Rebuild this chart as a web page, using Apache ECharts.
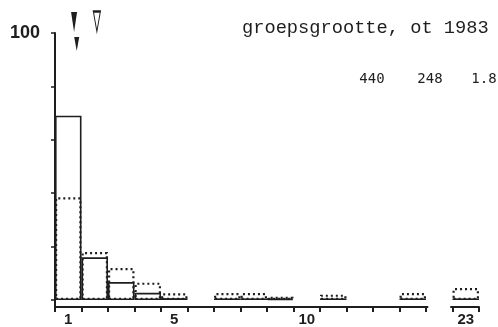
<!DOCTYPE html>
<html>
<head>
<meta charset="utf-8">
<script src="https://cdn.jsdelivr.net/npm/echarts@6/dist/echarts.min.js"></script>
<style>
  html, body { margin: 0; padding: 0; background: #fff; }
  #chart { width: 498px; height: 327px; }
</style>
</head>
<body>
<div id="chart"></div>
<script>
// group size bins (14 and 23 separated by a break)
const categories = ['1', '2', '3', '4', '5', '6', '7', '8', '9', '10', '11', '12', '13', '14', '', '23'];
const shownLabels = ['1', '5', '10', '23'];
// percentages, solid outline
const solidValues = [69, 16, 6.7, 2.7, 0.7, 0, 0.6, 0.6, 0.5, 0, 0.6, 0, 0, 0.6, 0, 0.6];
// percentages, dotted outline
const dottedValues = [38.5, 18, 12, 6.5, 2.5, 0, 2.6, 2.6, 1.2, 0, 2, 0, 0, 2.6, 0, 4.5];
// markers above the plot: [bin position, height]
const filledMarkers = [[1.72, 104.1], [1.82, 95.9]];
const openMarkers = [[2.58, 104.3]];
const summaryValues = ['440', '248', '1.8'];
const titleText = 'groepsgrootte, ot 1983';

const ink = '#1e1e1e';
const arrow = 'path://M0,0 L10,0 L5,30 Z';
// empty bins get no outline at all
const noEmpty = arr => arr.map(v => v === 0 ? '-' : v);

const chart = echarts.init(document.getElementById('chart'));

chart.setOption({
    animation: false,
    backgroundColor: '#fff',
    title: {
        text: titleText,
        left: 237,
        top: 14,
        textStyle: { fontFamily: 'Liberation Mono', fontSize: 18.7, fontWeight: 'normal', color: ink }
    },
    grid: { left: 55, right: 19, top: 33, bottom: 27 },
    xAxis: [{
        type: 'category',
        data: categories,
        offset: 7,
        axisLine: { onZero: false, lineStyle: { color: ink, width: 2 } },
        axisTick: { show: true, interval: 0, length: 5, lineStyle: { color: ink, width: 2 } },
        axisLabel: {
            interval: 0,
            margin: 5,
            color: ink,
            fontFamily: 'Liberation Sans',
            fontWeight: 'bold',
            fontSize: 15,
            formatter: v => shownLabels.indexOf(v) >= 0 ? v : ''
        },
        splitLine: { show: false }
    }, {
        type: 'value',
        min: 1,
        max: 17,
        show: false
    }],
    yAxis: {
        type: 'value',
        min: 0,
        max: 100,
        interval: 20,
        axisLine: { show: true, lineStyle: { color: ink, width: 2 } },
        axisTick: { show: true, length: 4, lineStyle: { color: ink, width: 1.5 } },
        axisLabel: {
            margin: 15,
            color: ink,
            fontFamily: 'Liberation Sans',
            fontWeight: 'bold',
            fontSize: 18,
            formatter: v => v === 100 ? '100' : ''
        },
        splitLine: { show: false }
    },
    series: [{
        type: 'bar',
        data: noEmpty(solidValues),
        barWidth: '100%',
        barGap: '-100%',
        itemStyle: { color: '#fff', borderColor: ink, borderWidth: 1.6 }
    }, {
        type: 'bar',
        data: noEmpty(dottedValues),
        barWidth: '100%',
        barGap: '-100%',
        itemStyle: { color: 'rgba(0,0,0,0)', borderColor: ink, borderWidth: 2.2, borderType: [2, 3] }
    }, {
        type: 'scatter',
        xAxisIndex: 1,
        clip: false,
        symbol: arrow,
        data: filledMarkers.map((d, i) => ({ value: d, symbolSize: i === 0 ? [6, 20] : [5, 14] })),
        itemStyle: { color: ink, opacity: 1 }
    }, {
        type: 'scatter',
        xAxisIndex: 1,
        clip: false,
        symbol: arrow,
        symbolSize: [7, 20],
        data: openMarkers,
        itemStyle: { color: '#fff', borderColor: ink, borderWidth: 1.5, opacity: 1 }
    }]
});

// break in the x axis line, y axis line carried down to it, and the summary numbers
const gapX = chart.convertToPixel({ xAxisIndex: 0 }, 14);
const zeroY = chart.convertToPixel({ yAxisIndex: 0 }, 0);
const axisY = zeroY + 7;
const axisX = chart.convertToPixel({ xAxisIndex: 1 }, 1);
const numberX = [372, 430, 484];
chart.setOption({
    graphic: [{
        type: 'rect',
        shape: { x: gapX - 11, y: axisY - 3, width: 22, height: 6 },
        style: { fill: '#fff' },
        z: 100
    }, {
        type: 'line',
        shape: { x1: axisX, y1: zeroY, x2: axisX, y2: axisY },
        style: { stroke: ink, lineWidth: 2 },
        z: 100
    }].concat(summaryValues.map((s, i) => ({
        type: 'text',
        x: numberX[i],
        y: 72,
        style: {
            text: s,
            textAlign: 'center',
            fill: ink,
            font: '14px "DejaVu Sans Mono"'
        }
    })))
});
</script>
</body>
</html>
